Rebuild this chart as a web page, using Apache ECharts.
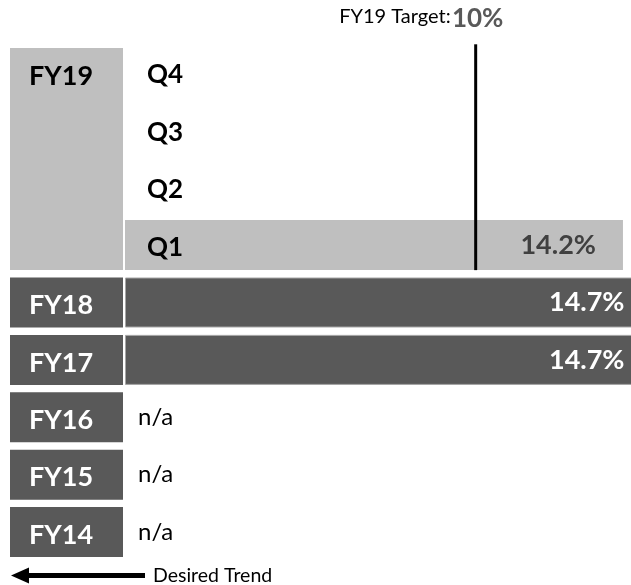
<!DOCTYPE html>
<html>
<head>
<meta charset="utf-8">
<script src="https://cdn.jsdelivr.net/npm/echarts@6/dist/echarts.min.js"></script>
<style>
	html, body { margin: 0; padding: 0; background: #fff; }
	#chart { width: 631px; height: 585px; }
</style>
</head>
<body>
<div id="chart"></div>
<script>
// rows, top to bottom
var rows = ['Q4', 'Q3', 'Q2', 'Q1', 'FY18', 'FY17', 'FY16', 'FY15', 'FY14'];
var values = [null, null, null, 14.2, 14.7, 14.7, null, null, null];
var quarters = ['Q4', 'Q3', 'Q2', 'Q1'];

// year boxes on the left
var groupNames = ['FY19', 'FY18', 'FY17', 'FY16', 'FY15', 'FY14'];
var groupFirst = ['Q4', 'FY18', 'FY17', 'FY16', 'FY15', 'FY14'];
var groupLast = ['Q1', 'FY18', 'FY17', 'FY16', 'FY15', 'FY14'];

var target = 10;
var targetName = 'FY19 Target:';
var targetRow = 'Q1';

var FONT = 'Lato, "Open Sans", sans-serif';
var LIGHT = '#bfbfbf';
var DARK = '#595959';
var BAR_H = 50;

var myChart = echarts.init(document.getElementById('chart'));

var barData = values.map(function(v, i) {
	var isQ = quarters.indexOf(rows[i]) >= 0;
	return {
		value: v,
		itemStyle: {
			color: isQ ? LIGHT : DARK,
			borderColor: isQ ? LIGHT : '#a6a6a6',
			borderWidth: isQ ? 0 : 1
		},
		label: {
			color: isQ ? '#404040' : '#fff',
			distance: isQ ? 27 : 16
		}
	};
});

var groupData = groupNames.map(function(n, i) {
	return [0, 1, rows.indexOf(groupFirst[i]), rows.indexOf(groupLast[i])];
});

option = {
	animation: false,
	grid: [
		{ left: 125, top: 44.3, width: 515.5, height: 516.4, outerBoundsMode: 'none' },
		{ left: 10, top: 44.3, width: 113, height: 516.4, outerBoundsMode: 'none' }
	],
	xAxis: [
		{ gridIndex: 0, type: 'value', min: 0, max: 14.7, show: false },
		{ gridIndex: 1, type: 'value', min: 0, max: 1, show: false }
	],
	yAxis: [
		{
			gridIndex: 0,
			type: 'category',
			data: rows,
			inverse: true,
			z: 5,
			axisLine: { show: false },
			axisTick: { show: false },
			splitLine: { show: false },
			axisLabel: {
				inside: true,
				margin: 13,
				formatter: function(v, i) {
					if (quarters.indexOf(v) >= 0) return '{q|' + v + '}';
					if (values[i] == null) return '{na|n/a}';
					return '';
				},
				rich: {
					q: { fontFamily: FONT, fontWeight: 'bold', fontSize: 26, color: '#000', padding: [4, 0, 0, 9] },
					na: { fontFamily: FONT, fontSize: 24, color: '#000' }
				}
			}
		},
		{
			gridIndex: 1,
			type: 'category',
			data: rows,
			inverse: true,
			show: false
		}
	],
	series: [
		{
			type: 'bar',
			xAxisIndex: 0,
			yAxisIndex: 0,
			barWidth: BAR_H,
			data: barData,
			label: {
				show: true,
				position: 'insideRight',
				fontFamily: FONT,
				fontWeight: 'bold',
				fontSize: 27,
				formatter: function(p) {
					return p.value + '%';
				}
			}
		},
		{
			// year boxes
			type: 'custom',
			xAxisIndex: 1,
			yAxisIndex: 1,
			encode: { x: [0, 1], y: [2, 3] },
			data: groupData,
			renderItem: function(params, api) {
				var a = api.coord([api.value(0), api.value(2)]);
				var b = api.coord([api.value(1), api.value(3)]);
				var i = params.dataIndex;
				var first = i === 0;
				return {
					type: 'group',
					children: [{
						type: 'rect',
						shape: { x: a[0], y: a[1] - BAR_H / 2, width: b[0] - a[0], height: b[1] - a[1] + BAR_H },
						style: { fill: first ? LIGHT : DARK }
					}, {
						type: 'text',
						x: a[0] + 19,
						y: a[1] + 3,
						style: {
							text: groupNames[i],
							fill: first ? '#000' : '#fff',
							font: 'bold 27px ' + FONT,
							verticalAlign: 'middle'
						}
					}]
				};
			}
		},
		{
			// target line
			type: 'custom',
			xAxisIndex: 0,
			yAxisIndex: 0,
			z: 4,
			data: [[target, rows.indexOf(targetRow)]],
			renderItem: function(params, api) {
				var p = api.coord([api.value(0), api.value(1)]);
				var t = api.coord([api.value(0), 0]);
				var band = api.size([0, 1])[1];
				var x = p[0];
				var y0 = t[1] - band / 2;
				var y1 = p[1] + BAR_H / 2;
				return {
					type: 'group',
					children: [{
						type: 'line',
						shape: { x1: x, y1: y0, x2: x, y2: y1 },
						style: { stroke: '#000', lineWidth: 3 }
					}, {
						type: 'text',
						x: x + 2,
						y: y0 - 26,
						style: {
							text: api.value(0) + '%',
							fill: DARK,
							font: 'bold 26px ' + FONT,
							align: 'center',
							verticalAlign: 'middle'
						}
					}, {
						type: 'text',
						x: x - 25,
						y: y0 - 27.5,
						style: {
							text: targetName,
							fill: '#000',
							font: '20px ' + FONT,
							align: 'right',
							verticalAlign: 'middle'
						}
					}]
				};
			}
		}
	],
	graphic: [
		{
			type: 'polygon',
			shape: { points: [[11, 575.5], [29, 567.5], [29, 583.5]] },
			style: { fill: '#000' }
		},
		{
			type: 'rect',
			shape: { x: 27, y: 573, width: 118, height: 5 },
			style: { fill: '#000' }
		},
		{
			type: 'text',
			x: 153,
			y: 576,
			style: {
				text: 'Desired Trend',
				fill: '#000',
				font: '19.5px ' + FONT,
				verticalAlign: 'middle'
			}
		}
	]
};

myChart.setOption(option);
</script>
</body>
</html>
